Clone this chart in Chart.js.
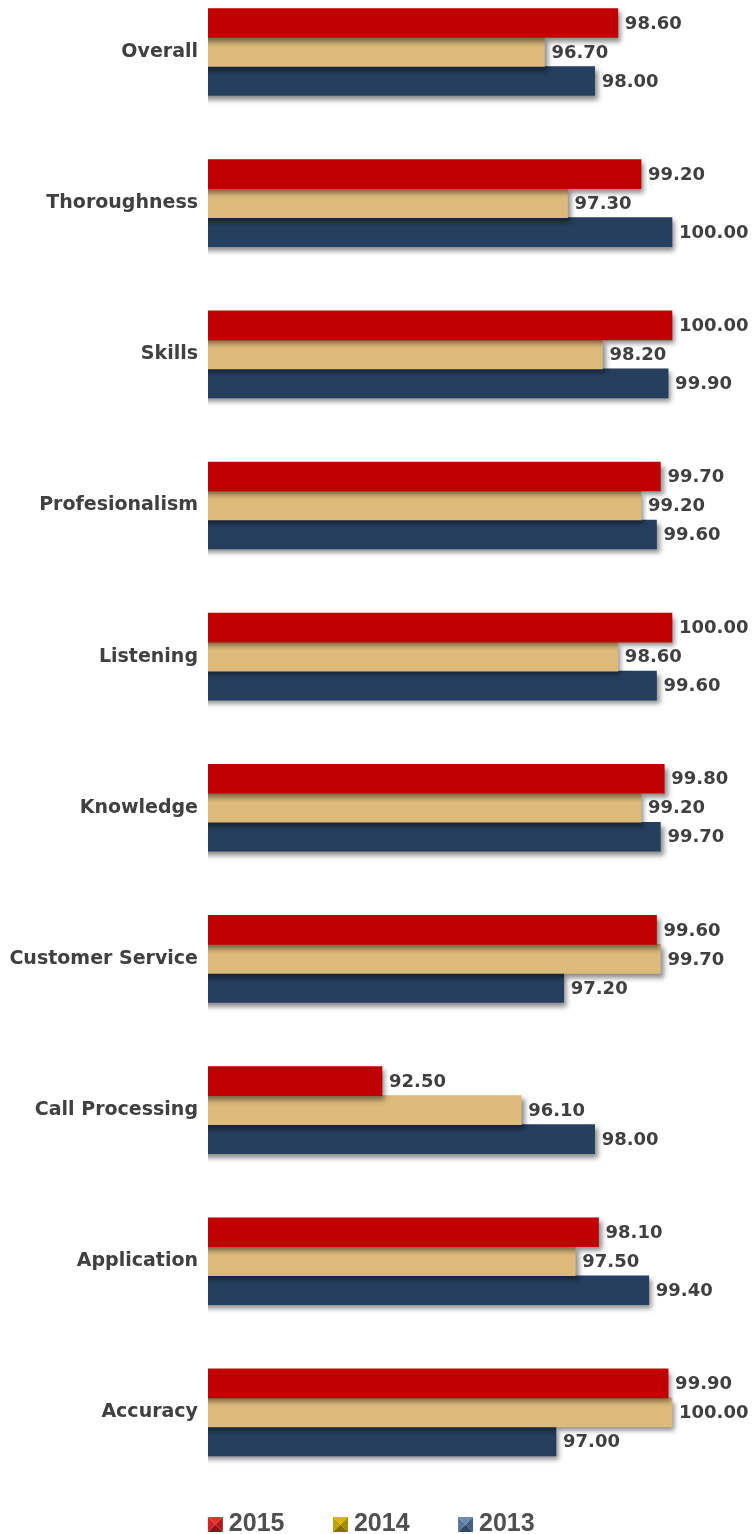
<!DOCTYPE html>
<html lang="en">
<head>
    <meta charset="UTF-8">
    <title>Survey Scores</title>
    <script src="https://cdn.jsdelivr.net/npm/chart.js"></script>
    <style>
        body { margin: 0; background: #fff; }
        #frame { position: relative; width: 755px; height: 1534px; overflow: hidden; }
        #holder { position: absolute; left: 0; top: -45px; width: 755px; height: 1592px; }
    </style>
</head>
<body>
    <div id="frame">
        <div id="holder"><canvas id="scoresChart"></canvas></div>
    </div>

    <script>
        const categories = ['Overall', 'Thoroughness', 'Skills', 'Profesionalism', 'Listening',
            'Knowledge', 'Customer Service', 'Call Processing', 'Application', 'Accuracy'];
        const years = ['2015', '2014', '2013'];
        const scores2015 = [98.6, 99.2, 100.0, 99.7, 100.0, 99.8, 99.6, 92.5, 98.1, 99.9];
        const scores2014 = [96.7, 97.3, 98.2, 99.2, 98.6, 99.2, 99.7, 96.1, 97.5, 100.0];
        const scores2013 = [98.0, 100.0, 99.9, 99.6, 99.6, 99.7, 97.2, 98.0, 99.4, 97.0];

        const barColors = ['#c00000', '#ddb97a', '#263f5f'];
        // legend swatches: top, left, right, bottom faces
        const swatchColors = [
            ['#ea2f2a', '#d42020', '#b01818', '#8c1212'],
            ['#d8b800', '#c2a400', '#a68c00', '#857000'],
            ['#6a89ad', '#567699', '#46607f', '#344a63']
        ];

        function pyramid(faces) {
            const c = document.createElement('canvas');
            c.width = 50; c.height = 15;
            const g = c.getContext('2d');
            const x0 = 33, x1 = 48, y0 = 0, y1 = 15, cx = 40.5, cy = 7.5;
            const tris = [
                [[x0, y0], [x1, y0]],
                [[x0, y0], [x0, y1]],
                [[x1, y0], [x1, y1]],
                [[x0, y1], [x1, y1]]
            ];
            tris.forEach((t, i) => {
                g.beginPath();
                g.moveTo(t[0][0], t[0][1]);
                g.lineTo(t[1][0], t[1][1]);
                g.lineTo(cx, cy);
                g.closePath();
                g.fillStyle = faces[i];
                g.fill();
            });
            return c;
        }

        // soft drop shadow under the bars, then the value labels on top
        const barDecor = {
            id: 'barDecor',
            beforeDatasetsDraw(chart) {
                const ctx = chart.ctx;
                ctx.save();
                ctx.shadowColor = 'rgba(0, 0, 0, 0.45)';
                ctx.shadowBlur = 5;
                ctx.shadowOffsetX = 3;
                ctx.shadowOffsetY = 4;
            },
            afterDatasetsDraw(chart) {
                const ctx = chart.ctx;
                ctx.restore();
                ctx.save();
                ctx.font = 'bold 18px "DejaVu Sans"';
                ctx.fillStyle = '#404040';
                ctx.textAlign = 'left';
                ctx.textBaseline = 'middle';
                chart.data.datasets.forEach((ds, i) => {
                    chart.getDatasetMeta(i).data.forEach((bar, j) => {
                        ctx.fillText(ds.data[j].toFixed(2), bar.x + 7, bar.y + 1);
                    });
                });
                ctx.restore();
            }
        };

        const seriesData = [scores2015, scores2014, scores2013];
        const swatches = swatchColors.map(pyramid);

        new Chart(document.getElementById('scoresChart'), {
            type: 'bar',
            data: {
                labels: categories,
                datasets: years.map((y, i) => ({
                    label: y,
                    data: seriesData[i],
                    backgroundColor: barColors[i],
                    barThickness: 29
                }))
            },
            options: {
                indexAxis: 'y',
                responsive: true,
                maintainAspectRatio: false,
                animation: false,
                devicePixelRatio: 1,
                layout: { padding: { left: 0, right: 37, top: 0, bottom: 0 } },
                scales: {
                    x: { display: false, min: 88, max: 101.19 },
                    y: {
                        grid: { display: false, drawTicks: false },
                        border: { display: false },
                        ticks: {
                            padding: 10,
                            color: '#404040',
                            font: { family: '"DejaVu Sans"', size: 19, weight: 'bold' }
                        },
                        afterFit(scale) { scale.width = 208; }
                    }
                },
                plugins: {
                    tooltip: { enabled: false },
                    legend: {
                        position: 'bottom',
                        labels: {
                            usePointStyle: true,
                            pointStyleWidth: 33,
                            padding: 24,
                            color: '#505050',
                            font: { family: '"Liberation Sans"', size: 25, weight: 'bold' },
                            generateLabels(chart) {
                                return chart.data.datasets.map((ds, i) => ({
                                    text: ds.label,
                                    fillStyle: barColors[i],
                                    strokeStyle: barColors[i],
                                    lineWidth: 0,
                                    pointStyle: swatches[i],
                                    fontColor: '#505050',
                                    hidden: false,
                                    datasetIndex: i
                                }));
                            }
                        }
                    }
                }
            },
            plugins: [barDecor]
        });
    </script>
</body>
</html>
